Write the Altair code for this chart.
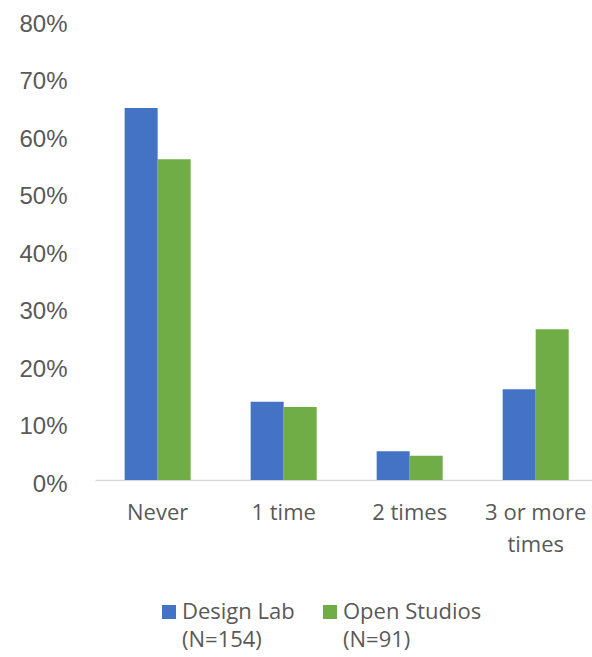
import altair as alt
import pandas as pd

categories = ["Never", "1 time", "2 times", "3 or more times"]
series = ["Design Lab (N=154)", "Open Studios (N=91)"]
design_lab = [0.647, 0.136, 0.050, 0.158]
open_studios = [0.558, 0.127, 0.042, 0.262]
colors = ["#4472C4", "#70AD47"]
y_ticks = [0, 0.1, 0.2, 0.3, 0.4, 0.5, 0.6, 0.7, 0.8]

rows = []
for i, c in enumerate(categories):
    rows.append({"category": c, "group": series[0], "value": design_lab[i]})
    rows.append({"category": c, "group": series[1], "value": open_studios[i]})
df = pd.DataFrame(rows)

text_color = "#595959"

chart = alt.Chart(df).mark_bar().encode(
    x=alt.X(
        "category:N",
        sort=categories,
        scale=alt.Scale(paddingInner=0.476, paddingOuter=0.21, align=0.56),
        axis=alt.Axis(
            title=None,
            ticks=False,
            labelAngle=0,
            labelFont="Open Sans",
            labelFontSize=22,
            labelColor=text_color,
            labelPadding=22,
            labelLineHeight=32,
            labelExpr="datum.label == '3 or more times' ? ['3 or more', 'times'] : datum.label",
            domainColor="#d9d9d9",
            domainWidth=1.5,
        ),
    ),
    xOffset=alt.XOffset("group:N", sort=series, scale=alt.Scale(paddingInner=0, paddingOuter=0)),
    y=alt.Y(
        "value:Q",
        scale=alt.Scale(domain=[0, 0.8], nice=False),
        axis=alt.Axis(
            title=None,
            values=y_ticks,
            format=".0%",
            grid=False,
            domain=False,
            ticks=False,
            labelFont="Liberation Sans",
            labelFontSize=24,
            labelColor=text_color,
            labelPadding=28,
            labelOffset=4,
        ),
    ),
    color=alt.Color(
        "group:N",
        sort=series,
        scale=alt.Scale(domain=series, range=colors),
        legend=alt.Legend(
            title=None,
            orient="none",
            legendX=63,
            legendY=581,
            direction="horizontal",
            symbolType="square",
            symbolSize=196,
            symbolStrokeWidth=0,
            labelFont="Open Sans",
            labelFontSize=22,
            labelColor=text_color,
            labelOffset=2,
            labelLimit=300,
            columnPadding=24,
            padding=0,
            labelExpr="split(datum.label, ' (')[0] == datum.label ? datum.label : [split(datum.label, ' (')[0], '(' + split(datum.label, ' (')[1]]",
        ),
    ),
).properties(
    width=497,
    height=460,
    autosize=alt.AutoSizeParams(type="none"),
    padding={"left": 95, "top": 20, "right": 0, "bottom": 177},
).configure(
    view=alt.ViewConfig(stroke=None),
    style={"guide-label": {"lineHeight": 28}},
)

chart.save("out.html", embed_options={"renderer": "svg", "actions": False})
